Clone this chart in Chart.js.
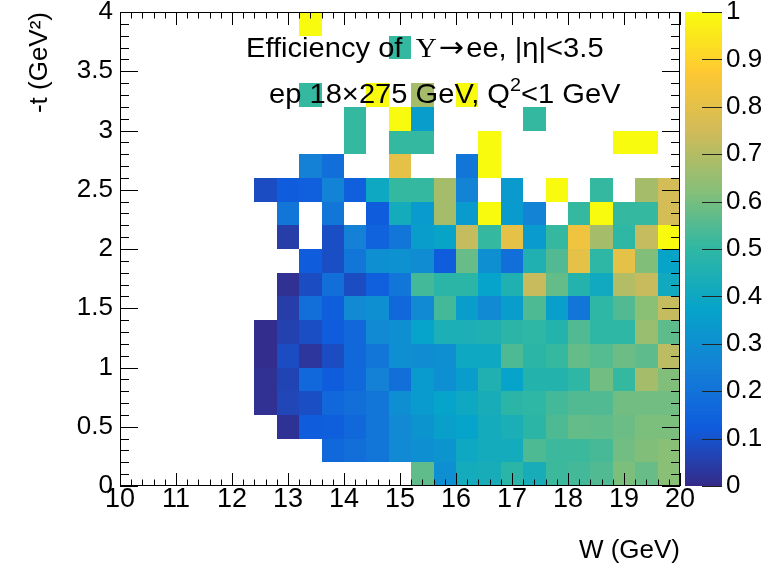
<!DOCTYPE html>
<html><head><meta charset="utf-8">
<script src="https://cdn.jsdelivr.net/npm/chart.js@4/dist/chart.umd.min.js"></script>
<style>html,body{margin:0;padding:0;background:#fff;}canvas{display:block;}</style>
</head><body>
<canvas id="c" width="764" height="566"></canvas>
<script>
// ---- binning (histogram bin low edges) ----
const wBinLow = [12.4,12.8,13.2,13.6,14.0,14.4,14.8,15.2,15.6,16.0,16.4,16.8,17.2,17.6,18.0,18.4,18.8,19.2,19.6];
const wBinWidth = 0.4;
const tBinLow = [0,0.2,0.4,0.6,0.8,1.0,1.2,1.4,1.6,1.8,2.0,2.2,2.4,2.6,2.8,3.0,3.2,3.4,3.6,3.8];
const tBinWidth = 0.2;
const n = null;
// ---- efficiency per -t bin (columns follow wBinLow) ----
const eff_t00 = [n,n,n,n,n,n,n,0.57,0.30,0.42,0.43,0.49,0.43,0.52,0.53,0.55,0.61,0.58,0.63];
const eff_t02 = [n,n,n,0.165,0.19,0.21,0.28,0.30,0.32,0.40,0.42,0.42,0.545,0.52,0.52,0.535,0.595,0.615,0.63];
const eff_t04 = [n,0.02,0.125,0.135,0.165,0.21,0.28,0.32,0.36,0.375,0.42,0.44,0.49,0.545,0.576,0.57,0.585,0.61,0.61];
const eff_t06 = [0.016,0.07,0.089,0.165,0.19,0.21,0.30,0.345,0.375,0.40,0.43,0.49,0.50,0.53,0.55,0.55,0.595,0.595,0.595];
const eff_t08 = [0.016,0.065,0.165,0.13,0.165,0.25,0.19,0.345,0.30,0.35,0.457,0.375,0.47,0.47,0.50,0.595,0.51,0.675,0.615];
const eff_t10 = [0.008,0.086,0.03,0.085,0.165,0.21,0.30,0.29,0.30,0.40,0.40,0.545,0.49,0.51,0.576,0.555,0.585,0.566,0.715];
const eff_t12 = [0.008,0.06,0.089,0.125,0.165,0.28,0.30,0.375,0.445,0.445,0.455,0.49,0.50,0.47,0.55,0.50,0.50,0.655,0.566];
const eff_t14 = [n,0.048,0.19,0.135,0.28,0.30,0.165,0.28,0.53,0.35,0.28,0.35,0.545,0.36,0.21,0.50,0.55,0.63,0.728];
const eff_t16 = [n,0.016,0.086,0.19,0.086,0.14,0.21,0.53,0.49,0.49,0.375,0.457,0.735,0.576,0.47,0.41,0.70,0.735,0.41];
const eff_t18 = [n,n,0.125,0.089,0.21,0.30,0.31,0.29,0.125,0.58,0.30,0.19,0.457,0.55,0.806,0.50,0.806,0.615,0.38];
const eff_t20 = [n,0.048,n,0.089,0.25,0.15,0.21,0.35,0.38,0.728,0.51,0.806,0.345,0.51,0.836,0.675,0.50,0.728,1.0];
const eff_t22 = [n,0.21,n,0.21,n,0.13,0.42,0.345,0.675,0.345,1.0,0.345,0.26,n,0.51,1.0,0.51,0.51,0.758];
const eff_t24 = [0.085,0.13,0.14,0.26,0.14,0.40,0.51,0.51,0.675,0.26,n,0.34,n,1.0,n,0.51,n,0.675,0.758];
const eff_t26 = [n,n,0.25,0.19,n,n,0.806,n,n,0.21,1.0,n,n,n,n,n,n,n,n];
const eff_t28 = [n,n,n,n,0.51,n,0.51,0.51,n,n,1.0,n,n,n,n,n,1.0,1.0,n];
const eff_t30 = [n,n,n,n,0.51,n,1.0,0.35,n,n,n,n,0.51,n,n,n,n,n,n];
const eff_t32 = [n,n,0.51,n,n,1.0,n,0.675,n,1.0,n,n,n,n,n,n,n,n,n];
const eff_t34 = [n,n,n,n,n,n,n,n,n,n,n,n,n,n,n,n,n,n,n];
const eff_t36 = [n,n,n,n,n,n,0.51,n,n,n,n,n,n,n,n,n,n,n,n];
const eff_t38 = [n,n,1.0,n,n,n,n,n,n,n,n,n,n,n,n,n,n,n,n];
const effRows = [eff_t00,eff_t02,eff_t04,eff_t06,eff_t08,eff_t10,eff_t12,eff_t14,eff_t16,eff_t18,
                 eff_t20,eff_t22,eff_t24,eff_t26,eff_t28,eff_t30,eff_t32,eff_t34,eff_t36,eff_t38];
// ---- axis ticks ----
const wTicks = [10,11,12,13,14,15,16,17,18,19,20];
const tTicks = [0,0.5,1,1.5,2,2.5,3,3.5,4];
const zTicks = [0,0.1,0.2,0.3,0.4,0.5,0.6,0.7,0.8,0.9,1];

// ---- ROOT kBird palette ----
const palStops = [0,0.125,0.25,0.375,0.5,0.625,0.75,0.875,1];
const palR = [0.2082,0.0592,0.0780,0.0232,0.1802,0.5301,0.8186,0.9956,0.9764];
const palG = [0.1664,0.3599,0.5041,0.6419,0.7178,0.7492,0.7328,0.7862,0.9832];
const palB = [0.5293,0.8684,0.8385,0.7914,0.6425,0.4662,0.3499,0.1968,0.0539];
function pal(v){
  v = Math.max(0, Math.min(1, v));
  let i = 0;
  while (i < palStops.length-2 && v > palStops[i+1]) i++;
  const f = (v - palStops[i]) / (palStops[i+1]-palStops[i]);
  const c = a => Math.round(255*(a[i] + f*(a[i+1]-a[i])));
  return `rgb(${c(palR)},${c(palG)},${c(palB)})`;
}

const FONT = '"Liberation Sans", Arial, Helvetica, sans-serif';
const fmt = v => String(+Number(v).toFixed(2));

const heatPlugin = {
  id: 'heat',
  beforeDatasetsDraw(chart){
    const {ctx} = chart; const xs = chart.scales.x, ys = chart.scales.y;
    ctx.save();
    effRows.forEach((row, r) => {
      const y0 = Math.round(ys.getPixelForValue(tBinLow[r]));
      const y1 = Math.round(ys.getPixelForValue(tBinLow[r] + tBinWidth));
      row.forEach((v, c) => {
        if (v === null) return;
        const x0 = Math.round(xs.getPixelForValue(wBinLow[c]));
        const x1 = Math.round(xs.getPixelForValue(wBinLow[c] + wBinWidth));
        ctx.fillStyle = pal(v);
        ctx.fillRect(x0, y1, x1 - x0, y0 - y1);
      });
    });
    ctx.restore();
  },
  afterDraw(chart){
    const {ctx, chartArea: a} = chart; const xs = chart.scales.x, ys = chart.scales.y, zs = chart.scales.z;
    ctx.save();
    // frame
    ctx.strokeStyle = '#000'; ctx.lineWidth = 1;
    ctx.strokeRect(a.left + 0.5, a.top + 0.5, a.right - a.left - 1, a.bottom - a.top - 1);
    // x ticks (bottom & top)
    ctx.beginPath();
    for (let i = 0; i <= 50; i++) {
      const v = xs.min + i * (xs.max - xs.min) / 50;
      const px = Math.round(xs.getPixelForValue(v)) + 0.5;
      const len = (i % 5 === 0) ? 13 : 6.5;
      ctx.moveTo(px, a.bottom); ctx.lineTo(px, a.bottom - len);
      ctx.moveTo(px, a.top); ctx.lineTo(px, a.top + len);
    }
    // y ticks (left & right)
    for (let i = 0; i <= 40; i++) {
      const v = ys.min + i * (ys.max - ys.min) / 40;
      const py = Math.round(ys.getPixelForValue(v)) + 0.5;
      const len = (i % 5 === 0) ? 18 : 9;
      ctx.moveTo(a.left, py); ctx.lineTo(a.left + len, py);
      ctx.moveTo(a.right, py); ctx.lineTo(a.right - len, py);
    }
    ctx.stroke();
    // colour bar
    const cbL = a.right + 5, cbR = a.right + 42;
    for (let k = 0; k < 200; k++) {
      const v0 = k / 200, v1 = (k + 1) / 200;
      const p0 = zs.getPixelForValue(v0), p1 = zs.getPixelForValue(v1);
      ctx.fillStyle = pal((v0 + v1) / 2);
      ctx.fillRect(cbL, Math.floor(p1), cbR - cbL, Math.ceil(p0) - Math.floor(p1));
    }
    ctx.beginPath();
    ctx.strokeStyle = '#222';
    zTicks.forEach(v => {
      const py = Math.round(zs.getPixelForValue(v)) + 0.5;
      ctx.moveTo(cbR, py); ctx.lineTo(cbR - 20, py);
    });
    ctx.stroke();
    // annotation text (slightly wide, as in the original rendering)
    ctx.fillStyle = '#000'; ctx.textBaseline = 'alphabetic'; ctx.textAlign = 'left';
    const sx = 1.04;
    const seg = (parts, x0, y) => {
      ctx.save();
      ctx.translate(x0, 0); ctx.scale(sx, 1);
      let x = 0;
      parts.forEach(([t, f, dy, gap]) => {
        x += (gap || 0);
        ctx.font = f; ctx.fillText(t, x, y - (dy || 0)); x += ctx.measureText(t).width;
      });
      ctx.restore();
    };
    const sans = '28px ' + FONT, serif = '28px "Liberation Serif", "DejaVu Serif", serif';
    seg([['Efficiency of ', sans], ['\u03A5', serif, 0, 5], ['\u2192', '29px "DejaVu Sans", sans-serif', 0, 2], ['ee, |\u03B7|<3.5', sans, 0, 2]], a.left + 126, a.top + 45);
    seg([['ep 18\u00D7275 GeV, Q', sans], ['2', '19px ' + FONT, 12], ['<1 GeV', sans]], a.left + 149, a.top + 91);
    ctx.restore();
  }
};

new Chart(document.getElementById('c'), {
  type: 'scatter',
  data: { datasets: [] },
  options: {
    responsive: false, animation: false, devicePixelRatio: 1,
    layout: { padding: { top: 12, left: 0, right: 0, bottom: 0 } },
    plugins: { legend: { display: false }, tooltip: { enabled: false } },
    scales: {
      x: {
        type: 'linear', position: 'bottom', min: 10, max: 20,
        afterFit: s => { s.height = 80; s.paddingLeft = 0; s.paddingRight = 0; },
        afterBuildTicks: s => { s.ticks = wTicks.map(v => ({ value: v })); },
        grid: { display: false, drawTicks: false }, border: { display: false },
        ticks: { padding: -3, color: '#000', autoSkip: false, maxRotation: 0, callback: fmt, font: { family: FONT, size: 27 } },
        title: { display: true, text: 'W (GeV)', align: 'end', color: '#000', font: { family: FONT, size: 26 }, padding: { top: 0, bottom: 0 } }
      },
      y: {
        type: 'linear', position: 'left', min: 0, max: 4,
        afterFit: s => { s.width = 120; s.paddingTop = 0; s.paddingBottom = 0; },
        afterBuildTicks: s => { s.ticks = tTicks.map(v => ({ value: v })); },
        grid: { display: false, drawTicks: false }, border: { display: false },
        ticks: { padding: 7, color: '#000', autoSkip: false, callback: fmt, font: { family: FONT, size: 26 } },
        title: { display: true, text: '-t (GeV\u00B2)', align: 'end', color: '#000', font: { family: FONT, size: 26 }, padding: { top: 24, bottom: 0 } }
      },
      z: {
        type: 'linear', position: 'right', min: 0, max: 1,
        afterFit: s => { s.width = 84; s.paddingTop = 0; s.paddingBottom = 0; },
        afterBuildTicks: s => { s.ticks = zTicks.map(v => ({ value: v })); },
        grid: { display: false, drawTicks: false }, border: { display: false },
        ticks: { padding: 46, color: '#000', autoSkip: false, callback: fmt, font: { family: FONT, size: 26 } }
      }
    }
  },
  plugins: [heatPlugin]
});
</script>
</body></html>
